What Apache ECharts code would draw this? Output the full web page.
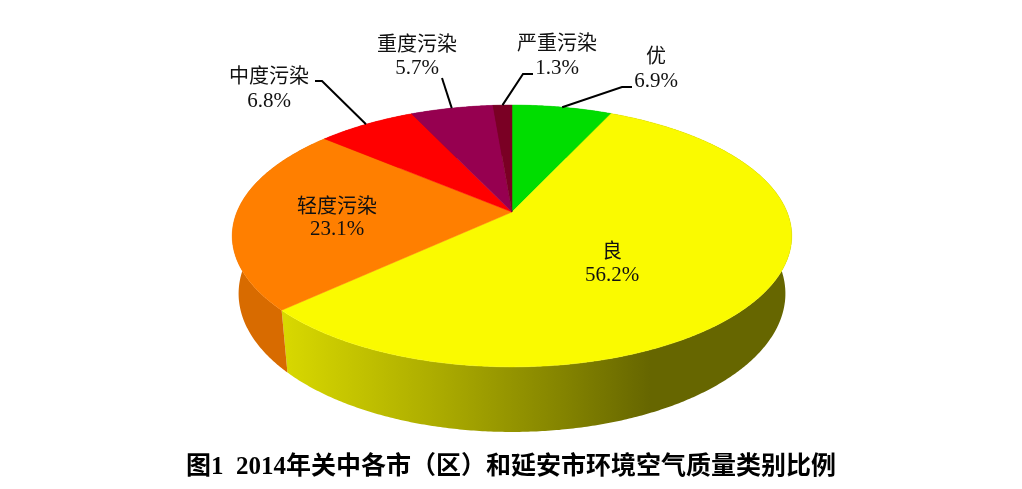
<!DOCTYPE html>
<html>
<head>
<meta charset="utf-8">
<script src="https://cdn.jsdelivr.net/npm/echarts@6/dist/echarts.min.js"></script>
<style>
html,body{margin:0;padding:0;background:#fff;}
#main{width:1022px;height:489px;}
</style>
</head>
<body>
<div id="main"></div>
<script>
// ---- data ----
const categories = ['优', '良', '轻度污染', '中度污染', '重度污染', '严重污染'];
const values = [6.9, 56.2, 23.1, 6.8, 5.7, 1.3];
const titleText = '图1  2014年关中各市（区）和延安市环境空气质量类别比例';

// ---- styles ----
const topColors = ['#00DD00', '#FAFA00', '#FF7F00', '#FF0000', '#960050', '#7A0024'];
const wallColors = ['#00A000', null, '#D86B00', '#C00000', '#700038', '#5A001A'];

// label layout
const labelLayout = [
  {x: 656, y1: 55, y2: 81, inside: false, pts: [[622, 87], [632, 87]]},
  {x: 612, y1: 250, y2: 275, inside: true},
  {x: 337, y1: 205, y2: 229, inside: true},
  {x: 269, y1: 75, y2: 101, inside: false, pts: [[322, 81], [315, 81]]},
  {x: 417, y1: 43, y2: 68, inside: false, pts: [[442, 78]]},
  {x: 557, y1: 42, y2: 68, inside: false, pts: [[523, 74], [533, 74]]}
];

// ---- 3D projection ----
const V = {cx: 512, cy: 212, F: 1334, D: 4.85, sa: 0.46, h: 0.238};
V.ca = Math.sqrt(1 - V.sa * V.sa);
function proj(phi, Y) {
  const X = Math.sin(phi), Z = -Math.cos(phi);
  const depth = V.D - (Y * V.sa + Z * V.ca);
  const up = Y * V.ca - Z * V.sa;
  return [V.cx + V.F * X / depth, V.cy - V.F * up / depth];
}

const total = values.reduce((a, b) => a + b, 0);
const cum = [0];
values.forEach((v, i) => cum.push(cum[i] + v));

const yellowWall = new echarts.graphic.LinearGradient(285, 0, 650, 0, [
  {offset: 0, color: '#D8D800'},
  {offset: 0.45, color: '#A8A800'},
  {offset: 0.75, color: '#858500'},
  {offset: 1, color: '#666600'}
], true);

function renderItem(params, api) {
  const i = params.dataIndex;
  const v = api.value(0);
  const a0 = cum[i] / total * Math.PI * 2;
  const a1 = (cum[i] + v) / total * Math.PI * 2;
  const n = Math.max(2, Math.ceil((a1 - a0) / (Math.PI / 360)));
  const topArc = [], botArc = [];
  for (let k = 0; k <= n; k++) {
    const a = a0 + (a1 - a0) * k / n;
    topArc.push(proj(a, 0));
    botArc.push(proj(a, -V.h));
  }
  const children = [];
  children.push({
    type: 'polygon', z2: 1,
    shape: {points: topArc.concat(botArc.slice().reverse())},
    style: {fill: i === 1 ? yellowWall : wallColors[i], stroke: null}
  });
  children.push({
    type: 'polygon', z2: 10,
    shape: {points: [[V.cx, V.cy]].concat(topArc)},
    style: {fill: topColors[i], stroke: topColors[i], lineWidth: 0.5}
  });
  const L = labelLayout[i];
  const pct = v.toFixed(1) + '%';
  children.push({
    type: 'text', z2: 30,
    style: {text: categories[i], x: L.x, y: L.y1, align: 'center', verticalAlign: 'middle',
      font: '20px "Noto Sans CJK SC", sans-serif', fill: '#111'}
  });
  children.push({
    type: 'text', z2: 30,
    style: {text: pct, x: L.x, y: L.y2, align: 'center', verticalAlign: 'middle',
      font: '21px "Liberation Serif", serif', fill: '#111'}
  });
  if (!L.inside) {
    const mid = (a0 + a1) / 2;
    const p0 = proj(mid, 0);
    children.push({
      type: 'polyline', z2: 20,
      shape: {points: [p0].concat(L.pts)},
      style: {stroke: '#000', lineWidth: 2, fill: null}
    });
  }
  return {type: 'group', children: children};
}

const chart = echarts.init(document.getElementById('main'), null, {renderer: 'canvas'});
chart.setOption({
  animation: false,
  backgroundColor: '#fff',
  title: {
    text: titleText, left: 'center', top: 455, padding: 0,
    textStyle: {fontSize: 25, fontWeight: 'bold', color: '#000',
      fontFamily: '"Liberation Serif", "Noto Sans CJK SC", serif'}
  },
  series: [{
    type: 'custom',
    coordinateSystem: 'none',
    renderItem: renderItem,
    data: values.map((v, i) => ({name: categories[i], value: [v]}))
  }]
});
</script>
</body>
</html>
